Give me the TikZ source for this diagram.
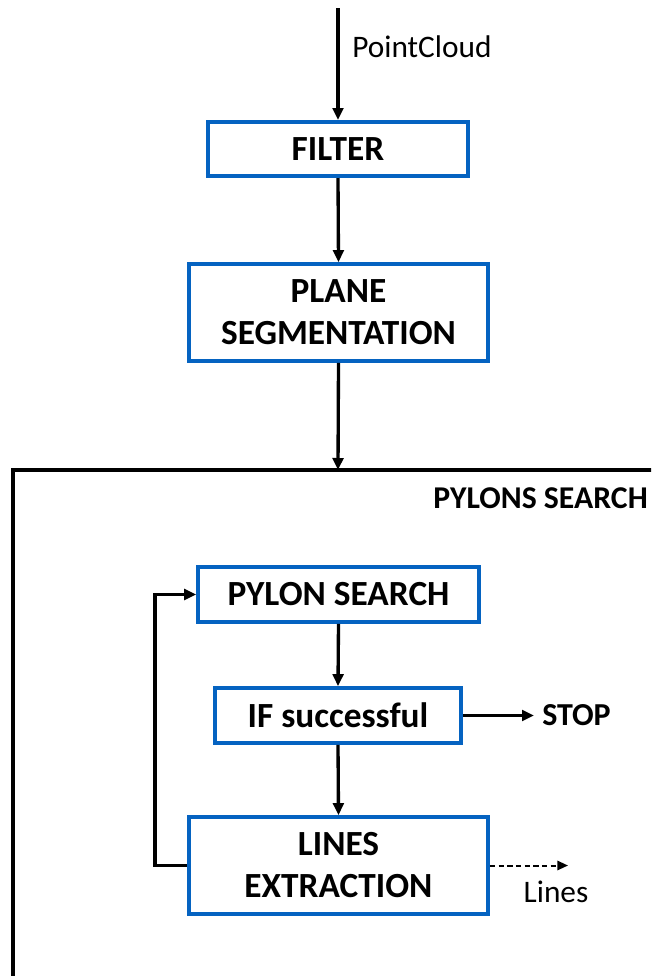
\documentclass[tikz,border=0pt]{standalone}
\usepackage{fontspec}
\setmainfont{Carlito}
\usetikzlibrary{arrows.meta}
\definecolor{boxblue}{RGB}{5,99,193}
\begin{document}
\begin{tikzpicture}[x=0.75pt,y=-0.75pt,
  font=\fontsize{23.5}{31.5}\selectfont,
  stepbox/.style={draw=boxblue,line width=3pt,fill=white,align=center,font=\fontsize{26.5}{31.5}\selectfont\bfseries,inner sep=0pt},
  flow/.style={line width=2.5pt,-{Triangle[length=9pt,width=8pt]}},
  dflow/.style={line width=1.5pt,dash pattern=on 4pt off 2.5pt,-{Triangle[length=8pt,width=7pt]}}]
\useasboundingbox (0,0) rectangle (651,976);
\clip (0,0) rectangle (651,976);
\fill[white] (0,0) rectangle (651,976);
% outer frame
\draw[line width=3pt] (13,1100) -- (13,470) -- (720,470);
\coordinate (frametop) at (338,470);
\node[anchor=east,font=\fontsize{23.8}{31.5}\selectfont\bfseries,inner sep=0pt] (pylons) at (648,498) {PYLONS SEARCH};
% nodes
\coordinate (start) at (338,8);
\node[anchor=west,inner sep=0pt] (pc) at (352,47) {PointCloud};
\node[stepbox,minimum width=195pt,minimum height=40.5pt] (filter) at (338,149) {FILTER};
\node[stepbox,minimum width=224pt,minimum height=72.5pt] (plane) at (338.5,312.5) {PLANE\\SEGMENTATION};
\node[stepbox,minimum width=210.5pt,minimum height=41pt] (pylon) at (338.5,594.5) {PYLON SEARCH};
\node[stepbox,minimum width=184.5pt,minimum height=41pt] (ifs) at (338,715.5) {IF successful};
\node[stepbox,minimum width=224pt,minimum height=72.5pt] (lines) at (338.5,865.5) {LINES\\EXTRACTION};
\node[anchor=west,font=\fontsize{24}{31.5}\selectfont\bfseries,inner sep=0pt] (stop) at (542,715.5) {STOP};
\coordinate (loop) at (155,865.5);
\coordinate (lout) at (568,865.5);
\node[inner sep=0pt] (linesout) at (556,892) {Lines};
% connectors
\draw[flow] (start) -- (filter.north);
\draw[flow] (filter.south) -- (plane.north);
\draw[flow] (plane.south) -- (frametop);
\draw[flow] (pylon.south) -- (ifs.north);
\draw[flow] (ifs.south) -- (lines.north);
\draw[flow] (ifs.east) -- ([xshift=-6pt]stop.west);
\draw[flow] (lines.west) -- (loop) |- (pylon.west);
\draw[dflow] (lines.east) -- (lout);
\end{tikzpicture}
\end{document}
